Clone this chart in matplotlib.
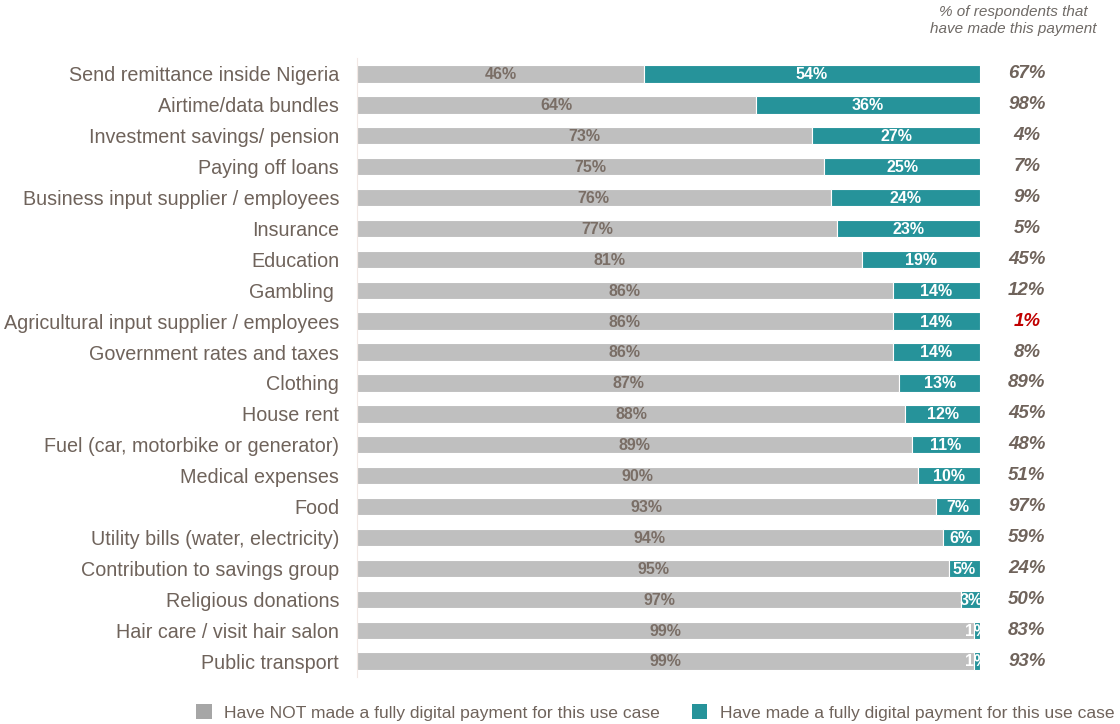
import numpy as np
import matplotlib.pyplot as plt
from matplotlib.patches import Patch

plt.rcParams['font.family'] = ['Liberation Sans', 'DejaVu Sans']

categories = [
    "Send remittance inside Nigeria", "Airtime/data bundles", "Investment savings/ pension",
    "Paying off loans", "Business input supplier / employees", "Insurance", "Education",
    "Gambling ", "Agricultural input supplier / employees", "Government rates and taxes",
    "Clothing", "House rent", "Fuel (car, motorbike or generator)", "Medical expenses",
    "Food", "Utility bills (water, electricity)", "Contribution to savings group",
    "Religious donations", "Hair care / visit hair salon", "Public transport",
]
not_digital = [46, 64, 73, 75, 76, 77, 81, 86, 86, 86, 87, 88, 89, 90, 93, 94, 95, 97, 99, 99]
digital = [54, 36, 27, 25, 24, 23, 19, 14, 14, 14, 13, 12, 11, 10, 7, 6, 5, 3, 1, 1]
made_payment = [67, 98, 4, 7, 9, 5, 45, 12, 1, 8, 89, 45, 48, 51, 97, 59, 24, 50, 83, 93]

gray = '#BFBFBF'
teal = '#26939A'
txt = '#6F635B'

fig = plt.figure(figsize=(11.2, 7.24), dpi=100)
ax = fig.add_axes([0.3188, 0.0656, 0.5563, 0.8536])

y = np.arange(len(categories))
ax.barh(y, not_digital, height=0.56, color=gray, edgecolor='white', linewidth=0.8)
ax.barh(y, digital, left=not_digital, height=0.56, color=teal, edgecolor='white', linewidth=0.8)

for i in range(len(categories)):
    ax.text(not_digital[i] / 2, i + 0.03, f"{not_digital[i]}%", ha='center', va='center',
            fontsize=11.5, fontweight='bold', color='#7A6E66')
    ax.text(not_digital[i] + digital[i] / 2, i + 0.03, f"{digital[i]}%", ha='center', va='center',
            fontsize=11.5, fontweight='bold', color='white')
    col = '#C00000' if made_payment[i] == 1 else txt
    ax.text(107.5, i, f"{made_payment[i]}%", ha='center', va='center', fontsize=13.5,
            fontweight='bold', fontstyle='italic', color=col, clip_on=False)

ax.text(105.3, -1.72, "% of respondents that\nhave made this payment", ha='center',
        va='center', fontsize=11, fontstyle='italic', color='#6F6A66', linespacing=1.3)

ax.set_xlim(0, 100)
ax.set_ylim(19.5, -0.5)
ax.set_yticks(y)
ax.set_yticklabels(categories, fontsize=14.2, color=txt)
ax.set_xticks([])
ax.tick_params(axis='y', length=0, pad=13)
for s in ['top', 'right', 'bottom']:
    ax.spines[s].set_visible(False)
ax.spines['left'].set_color('#F2E8E4')

handles = [Patch(facecolor='#A6A6A6', label='Have NOT made a fully digital payment for this use case'),
           Patch(facecolor=teal, label='Have made a fully digital payment for this use case')]
fig.legend(handles=handles, loc='center', bbox_to_anchor=(0.585, 0.016), ncol=2, frameon=False,
           fontsize=12.6, handlelength=0.9, handleheight=0.9, handletextpad=0.7,
           columnspacing=1.8, labelcolor=txt)

fig.savefig('out.png', dpi=100)
